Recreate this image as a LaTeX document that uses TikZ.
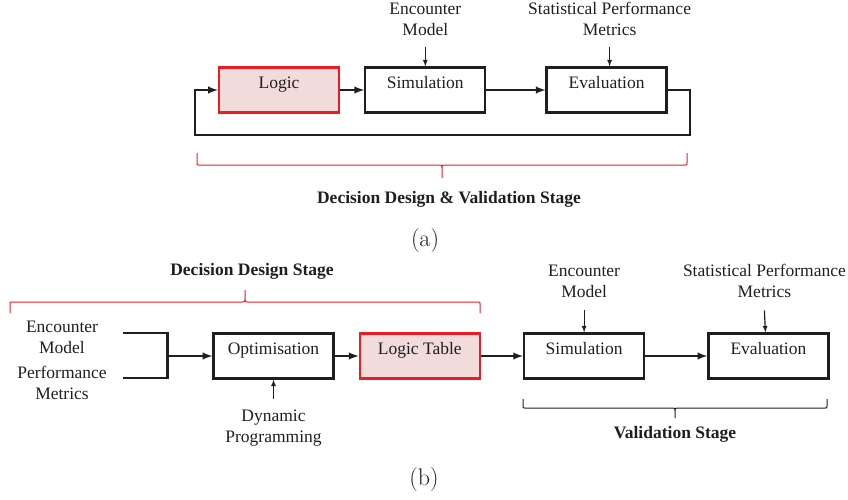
\documentclass[tikz,border=0pt]{standalone}
\usepackage{fontspec}
\setmainfont{Liberation Serif}
\newfontfamily\capfont{Latin Modern Roman}
\usetikzlibrary{positioning}
\definecolor{logicclr}{rgb}{0.95, 0.86, 0.86}
\definecolor{edgeclr}{rgb}{0.93, 0.11, 0.14}
\definecolor{lineclr}{rgb}{0.12, 0.12, 0.12}
\tikzset{ %
  ,>=latex
  ,every node/.style={font=\fontsize{17.5}{21}\selectfont, text=lineclr}
  ,block/.style={draw=lineclr, line width=2.3pt, rectangle, inner ysep=0, minimum width=120pt, text height=21pt, text depth=24pt}
  ,logic/.style={block, draw=edgeclr, fill=logicclr}
  ,lbl/.style={align=center, inner sep=0}
  ,stage/.style={font=\fontsize{17.5}{21}\selectfont\bfseries}
  ,flow/.style={draw=lineclr, line width=2.3pt}
  ,feed/.style={draw=lineclr, line width=1.2pt}
  ,brc/.style={line width=1pt}
  ,capt/.style={font=\capfont\fontsize{24}{28}\selectfont}
}
% stage bracket: colour, left x, right x, end y, offset to bar, offset to tip
\newcommand{\stagebrk}[6]{%
  \draw[brc, #1] (#2,#4) -- ({#2},{#4+#5-2*sign(#5)})
    .. controls ({#2},{#4+#5}) .. ({#2+2},{#4+#5})
    -- ({(#2+#3)/2-3},{#4+#5})
    .. controls ({(#2+#3)/2},{#4+#5}) .. ({(#2+#3)/2},{#4+#5+3*sign(#5)})
    -- ({(#2+#3)/2},{#4+#6})
    ({(#2+#3)/2},{#4+#5+3*sign(#5)})
    .. controls ({(#2+#3)/2},{#4+#5}) .. ({(#2+#3)/2+3},{#4+#5})
    -- ({#3-2},{#4+#5})
    .. controls ({#3},{#4+#5}) .. ({#3},{#4+#5-2*sign(#5)})
    -- (#3,#4);}
\begin{document}
\begin{tikzpicture}[x=1pt, y=-1pt]
  \useasboundingbox (0,0) rectangle (848,499);
  % (a) combined stage
  \node[logic] (logA) at (279,90) {Logic};
  \node[block, right=24pt of logA] (simA) {Simulation};
  \node[block, right=59pt of simA] (evalA) {Evaluation};
  \node[lbl, above=30pt of simA] (encA) {Encounter\\Model};
  \node[lbl, above=30pt of evalA, xshift=3pt] (metA) {Statistical Performance\\Metrics};
  \draw[feed,->] ([yshift=-11pt]encA.south) -- (simA.north);
  \draw[feed,->] ([yshift=-11pt]metA.south) -- ([xshift=3pt]evalA.north);
  \draw[flow,->] (logA) -- (simA);
  \draw[flow,->] (simA) -- (evalA);
  \draw[flow,->] (evalA.east) -- ++(22,0) -- ++(0,45) -| ([xshift=-23pt]logA.west) -- (logA.west);
  \stagebrk{edgeclr}{197}{687}{153}{12}{25}
  \node[stage] (stA) at (449,199) {Decision Design \& Validation Stage};
  \node[capt] (capA) at (425,241) {(a)};
  % (b) separate stages
  \node[block] (opt) at (273.5,356) {Optimisation};
  \node[logic, right=24pt of opt] (logB) {Logic Table};
  \node[block, right=42pt of logB] (simB) {Simulation};
  \node[block, right=62pt of simB] (evalB) {Evaluation};
  \node[lbl, above=34pt of simB] (encB) {Encounter\\Model};
  \node[lbl, above=34pt of evalB, xshift=-4pt] (metB) {Statistical Performance\\Metrics};
  \node[lbl, below=30pt of opt] (dyn) {Dynamic\\Programming};
  \node[lbl] (encIn) at (62,337) {Encounter\\Model};
  \node[lbl] (perfIn) at (62,383) {Performance\\Metrics};
  \coordinate (in1) at (123,333);
  \coordinate (in2) at (123,378);
  \coordinate[left=45pt of opt.west] (merge);
  \draw[flow] (in1) -| (merge) |- (in2);
  \draw[flow,->] (merge) -- (opt.west);
  \draw[feed,->] ([yshift=11pt]dyn.north) -- (opt.south);
  \draw[feed,->] ([yshift=-12pt]encB.south) -- (simB.north);
  \draw[feed,->] ([yshift=-12pt]metB.south) -- ([xshift=-3pt]evalB.north);
  \draw[flow,->] (opt) -- (logB);
  \draw[flow,->] (logB) -- (simB);
  \draw[flow,->] (simB) -- (evalB);
  \stagebrk{edgeclr}{10}{480}{313}{-11}{-23}
  \stagebrk{lineclr}{523}{827}{399}{9}{19}
  \node[stage] (stDes) at (252,271) {Decision Design Stage};
  \node[stage] (stVal) at (675,434) {Validation Stage};
  \node[capt] (capB) at (424,480) {(b)};
\end{tikzpicture}
\end{document}
